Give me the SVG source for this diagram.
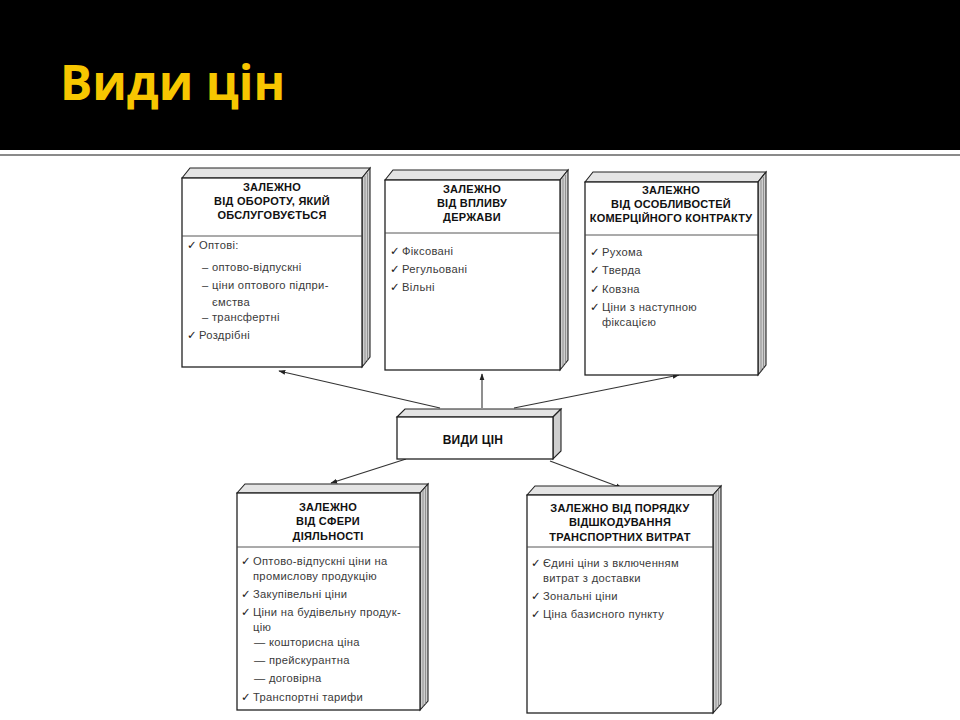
<svg xmlns="http://www.w3.org/2000/svg" width="960" height="720" viewBox="0 0 960 720">
<style>
.hd{font-family:"Liberation Sans",Arial,sans-serif;font-weight:bold;font-size:11px;letter-spacing:0.25px;fill:#111;text-anchor:middle}
.it{font-family:"Liberation Sans",Arial,sans-serif;font-size:11.2px;letter-spacing:0.3px;fill:#3a3a3a}
.ck{font-family:"DejaVu Sans",sans-serif;font-size:11.5px;fill:#222}
.front{fill:#fff;stroke:#222;stroke-width:1.3}
.top{fill:#e4e4e4;stroke:#222;stroke-width:1.1}
.side{fill:#cfcfcf;stroke:#222;stroke-width:1.1}
.pg{stroke:#777;stroke-width:0.7;fill:none}
.div{stroke:#444;stroke-width:0.9}
.con{stroke:#333;stroke-width:1.1;fill:none;marker-end:url(#ah)}
</style>
<defs>
<marker id="ah" viewBox="0 0 10 10" refX="9" refY="5" markerWidth="7" markerHeight="7" orient="auto-start-reverse" markerUnits="userSpaceOnUse">
<path d="M0,1.5 L10,5 L0,8.5 Z" fill="#222"/>
</marker>
</defs>
<rect x="0" y="0" width="960" height="720" fill="#fff"/>
<rect x="0" y="0" width="960" height="150" fill="#000"/>
<line x1="0" y1="155" x2="960" y2="155" stroke="#8a8a8a" stroke-width="2"/>
<text x="60" y="100" font-family="'Open Sans','Liberation Sans',sans-serif" font-weight="bold" font-size="48" fill="#f7c600">Види цін</text>

<g id="connectors">
<line class="con" x1="440" y1="408" x2="279" y2="371"/>
<line class="con" x1="482" y1="408" x2="482" y2="374"/>
<line class="con" x1="514" y1="408" x2="679" y2="375"/>
<line class="con" x1="406" y1="459" x2="331" y2="483"/>
<line class="con" x1="550" y1="461" x2="622" y2="488"/>
</g>

<g id="node-turnover">
<polygon class="top" points="182,178 190,168 370,168 362,178"/>
<polygon class="side" points="362,178 370,168 370,357 362,367"/>
<path class="pg" d="M365,176 V364 M367.5,173 V361"/>
<rect class="front" x="182" y="178" width="180" height="189"/>
<line class="div" x1="182" y1="236" x2="362" y2="236"/>
<text class="hd" x="272" y="191">ЗАЛЕЖНО</text>
<text class="hd" x="272" y="205">ВІД ОБОРОТУ, ЯКИЙ</text>
<text class="hd" x="272" y="219">ОБСЛУГОВУЄТЬСЯ</text>
<text class="ck" x="187" y="249">✓</text><text class="it" x="199" y="249">Оптові:</text>
<text class="it" x="202" y="271">– оптово-відпускні</text>
<text class="it" x="202" y="289">– ціни оптового підпри-</text>
<text class="it" x="212" y="306">ємства</text>
<text class="it" x="202" y="321">– трансфертні</text>
<text class="ck" x="187" y="339">✓</text><text class="it" x="199" y="339">Роздрібні</text>
</g>

<g id="node-state">
<polygon class="top" points="385,180 393,170 568,170 560,180"/>
<polygon class="side" points="560,180 568,170 568,360 560,370"/>
<path class="pg" d="M563,178 V367 M565.5,175 V364"/>
<rect class="front" x="385" y="180" width="175" height="190"/>
<line class="div" x1="385" y1="233" x2="560" y2="233"/>
<text class="hd" x="472" y="193">ЗАЛЕЖНО</text>
<text class="hd" x="472" y="207">ВІД ВПЛИВУ</text>
<text class="hd" x="472" y="221">ДЕРЖАВИ</text>
<text class="ck" x="390" y="255">✓</text><text class="it" x="402" y="255">Фіксовані</text>
<text class="ck" x="390" y="273">✓</text><text class="it" x="402" y="273">Регульовані</text>
<text class="ck" x="390" y="291">✓</text><text class="it" x="402" y="291">Вільні</text>
</g>

<g id="node-contract">
<polygon class="top" points="585,182 593,172 766,172 758,182"/>
<polygon class="side" points="758,182 766,172 766,365 758,375"/>
<path class="pg" d="M761,180 V372 M763.5,177 V369"/>
<rect class="front" x="585" y="182" width="173" height="193"/>
<line class="div" x1="585" y1="235" x2="758" y2="235"/>
<text class="hd" x="671" y="194">ЗАЛЕЖНО</text>
<text class="hd" x="671" y="208">ВІД ОСОБЛИВОСТЕЙ</text>
<text class="hd" x="671" y="222">КОМЕРЦІЙНОГО КОНТРАКТУ</text>
<text class="ck" x="590" y="256">✓</text><text class="it" x="602" y="256">Рухома</text>
<text class="ck" x="590" y="274">✓</text><text class="it" x="602" y="274">Тверда</text>
<text class="ck" x="590" y="293">✓</text><text class="it" x="602" y="293">Ковзна</text>
<text class="ck" x="590" y="311">✓</text><text class="it" x="602" y="311">Ціни з наступною</text>
<text class="it" x="602" y="326">фіксацією</text>
</g>

<g id="node-center">
<polygon class="top" points="397,417 405,409 561,409 553,417"/>
<polygon class="side" points="553,417 561,409 561,451 553,459"/>
<rect class="front" x="397" y="417" width="156" height="42"/>
<text class="hd" x="473" y="444" style="font-size:12px">ВИДИ ЦІН</text>
</g>

<g id="node-sphere">
<polygon class="top" points="237,493 245,484 428,484 420,493"/>
<polygon class="side" points="420,493 428,484 428,701 420,710"/>
<path class="pg" d="M423,490 V707 M425.5,487 V704"/>
<rect class="front" x="237" y="493" width="183" height="217"/>
<line class="div" x1="237" y1="547" x2="420" y2="547"/>
<text class="hd" x="328" y="511">ЗАЛЕЖНО</text>
<text class="hd" x="328" y="525">ВІД СФЕРИ</text>
<text class="hd" x="328" y="540">ДІЯЛЬНОСТІ</text>
<text class="ck" x="241" y="565">✓</text><text class="it" x="253" y="565">Оптово-відпускні ціни на</text>
<text class="it" x="253" y="580">промислову продукцію</text>
<text class="ck" x="241" y="598">✓</text><text class="it" x="253" y="598">Закупівельні ціни</text>
<text class="ck" x="241" y="616">✓</text><text class="it" x="253" y="616">Ціни на будівельну продук-</text>
<text class="it" x="253" y="631">цію</text>
<text class="it" x="254" y="646">— кошторисна ціна</text>
<text class="it" x="254" y="664">— прейскурантна</text>
<text class="it" x="254" y="682">— договірна</text>
<text class="ck" x="241" y="701">✓</text><text class="it" x="253" y="701">Транспортні тарифи</text>
</g>

<g id="node-transport">
<polygon class="top" points="527,495 535,486 721,486 713,495"/>
<polygon class="side" points="713,495 721,486 721,704 713,713"/>
<path class="pg" d="M716,492 V710 M718.5,489 V707"/>
<rect class="front" x="527" y="495" width="186" height="218"/>
<line class="div" x1="527" y1="547" x2="713" y2="547"/>
<text class="hd" x="620" y="512">ЗАЛЕЖНО ВІД ПОРЯДКУ</text>
<text class="hd" x="620" y="526">ВІДШКОДУВАННЯ</text>
<text class="hd" x="620" y="541">ТРАНСПОРТНИХ ВИТРАТ</text>
<text class="ck" x="531" y="567">✓</text><text class="it" x="543" y="567">Єдині ціни з включенням</text>
<text class="it" x="543" y="582">витрат з доставки</text>
<text class="ck" x="531" y="600">✓</text><text class="it" x="543" y="600">Зональні ціни</text>
<text class="ck" x="531" y="618">✓</text><text class="it" x="543" y="618">Ціна базисного пункту</text>
</g>
</svg>
